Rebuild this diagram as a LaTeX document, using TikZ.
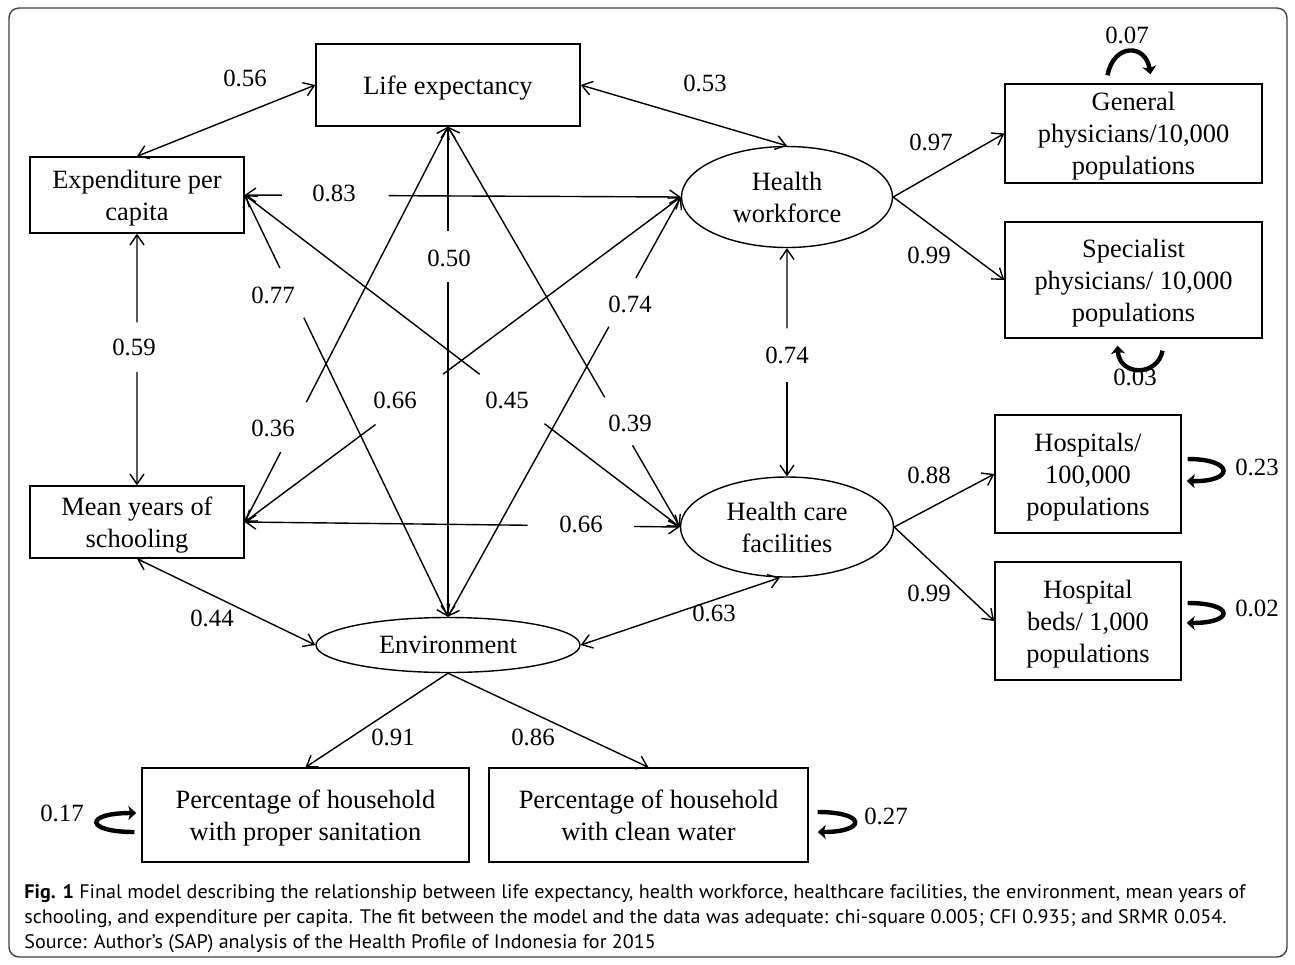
\documentclass[tikz,border=0pt]{standalone}
\usepackage{fontspec}
\setmainfont{Liberation Serif}
\newfontfamily\capfont{PT Sans}
\usepackage{graphicx}
\usetikzlibrary{arrows.meta,shapes.geometric,calc}

\tikzset{
  box/.style={draw, line width=0.7pt, rectangle, align=center, inner sep=1pt, text depth=0pt, font=\fontsize{13.2}{16}\selectfont},
  lat/.style={draw, line width=0.7pt, ellipse, align=center, inner sep=0pt, font=\fontsize{13.2}{16}\selectfont},
  con/.style={line width=0.7pt},
  biarrow/.style={con, {Straight Barb[length=5pt,width=7pt]}-{Straight Barb[length=5pt,width=7pt]}},
  onearrow/.style={con, -{Straight Barb[length=5pt,width=7pt]}},
  startarrow/.style={con, {Straight Barb[length=5pt,width=7pt]}-},
  coef/.style={font=\fontsize{12.4}{14}\selectfont, inner sep=0pt},
  resid/.style={line width=2.2pt, -{Stealth[length=4pt,width=7pt,inset=1pt]}},
  captext/.style={anchor=base west, inner sep=0pt, text=black!85},
}

\newcommand\gapline[4]{%
  \draw[startarrow] (#1) -- ($(#1)!#3!(#2)$);
  \draw[onearrow] ($(#1)!#4!(#2)$) -- (#2);}

\newsavebox\capone
\newsavebox\captwo
\newsavebox\capthree

\begin{document}
\sbox\capone{\capfont\fontsize{9.8}{12}\selectfont\textbf{Fig. 1} Final model describing the relationship between life expectancy, health workforce, healthcare facilities, the environment, mean years of}%
\sbox\captwo{\capfont\fontsize{9.8}{12}\selectfont schooling, and expenditure per capita. The fit between the model and the data was adequate: chi-square 0.005; CFI 0.935; and SRMR 0.054.}%
\sbox\capthree{\capfont\fontsize{9.8}{12}\selectfont Source: Author’s (SAP) analysis of the Health Profile of Indonesia for 2015}%
\pgfmathsetmacro\capfac{610.5/\the\wd\capone}%
\begin{tikzpicture}[x=0.5pt,y=-0.5pt]
\useasboundingbox (0,0) rectangle (1295,964);
\draw[line width=0.7pt, black!75, rounded corners=5pt] (9,8) rectangle (1287,957);

% nodes
\node[box, minimum width=132pt, minimum height=41pt] (le) at (448,85) {Life expectancy};
\node[box, minimum width=107pt, minimum height=38pt] (exp) at (137,195) {Expenditure per\\capita};
\node[box, minimum width=107pt, minimum height=36pt] (mys) at (137,522) {Mean years of\\schooling};
\node[lat, minimum width=105.5pt, minimum height=50.5pt] (hw) at (787,197) {Health\\workforce};
\node[lat, minimum width=106.5pt, minimum height=50pt] (hcf) at (787,527) {Health care\\facilities};
\node[lat, minimum width=132pt, minimum height=27.5pt] (env) at (448,645) {Environment};
\node[box, minimum width=128.5pt, minimum height=49.5pt] (gp) at (1133.5,133.5) {General\\physicians/10,000\\populations};
\node[box, minimum width=128.5pt, minimum height=58pt] (sp) at (1133.5,280) {Specialist\\physicians/ 10,000\\populations};
\node[box, minimum width=93pt, minimum height=59pt] (hosp) at (1088,474) {Hospitals/\\100,000\\populations};
\node[box, minimum width=93pt, minimum height=59pt] (beds) at (1088,621) {Hospital\\beds/ 1,000\\populations};
\node[box, minimum width=163.5pt, minimum height=47pt] (san) at (305.5,815) {Percentage of household\\with proper sanitation};
\node[box, minimum width=159.5pt, minimum height=47pt] (wat) at (648.5,815) {Percentage of household\\with clean water};

% continuous two-headed connectors
\draw[biarrow] (exp.north) -- (le.west);
\draw[biarrow] (le.east) -- (hw.north);
\draw[biarrow] (mys.south) -- (env.west);
\draw[biarrow] (env.east) -- (hcf.262);

% interrupted two-headed connectors
\gapline{exp.east}{hw.west}{0.085}{0.33}
\gapline{exp.south}{mys.north}{0.352}{0.549}
\gapline{exp.east}{env.north}{0.173}{0.291}
\gapline{exp.east}{hcf.west}{0.540}{0.689}
\gapline{le.south}{mys.east}{0.697}{0.823}
\gapline{le.south}{env.north}{0.212}{0.317}
\gapline{le.south}{hcf.west}{0.676}{0.796}
\gapline{hw.west}{mys.east}{0.545}{0.700}
\gapline{hw.west}{env.north}{0.193}{0.309}
\gapline{hw.south}{hcf.north}{0.351}{0.586}
\gapline{mys.east}{hcf.west}{0.650}{0.895}

% loadings
\draw[onearrow] (hw.east) -- (gp.west);
\draw[onearrow] (hw.east) -- (sp.west);
\draw[onearrow] (hcf.east) -- (hosp.west);
\draw[onearrow] (hcf.east) -- (beds.west);
\draw[onearrow] (env.south) -- (san.north);
\draw[onearrow] (env.south) -- (wat.north);

% residual arrows
\draw[resid] ($(gp.north)+(-26,-8)$) .. controls ($(gp.north)+(-20,-40)$) and ($(gp.north)+(12,-40)$) .. ($(gp.north)+(17,-9)$);
\draw[resid] ($(sp.south)+(29,12)$) .. controls ($(sp.south)+(24,38)$) and ($(sp.south)+(-14,38)$) .. ($(sp.south)+(-16,7)$);
\draw[resid] ($(hosp.east)+(6,-15)$) .. controls ($(hosp.east)+(53,-15)$) and ($(hosp.east)+(53,8)$) .. ($(hosp.east)+(5,7)$);
\draw[resid] ($(beds.east)+(6,-18)$) .. controls ($(beds.east)+(53,-18)$) and ($(beds.east)+(53,2)$) .. ($(beds.east)+(5,2)$);
\draw[resid] ($(san.west)+(-7,17)$) .. controls ($(san.west)+(-57,17)$) and ($(san.west)+(-57,-2)$) .. ($(san.west)+(-5,-2)$);
\draw[resid] ($(wat.east)+(9,-3)$) .. controls ($(wat.east)+(58,-3)$) and ($(wat.east)+(58,17)$) .. ($(wat.east)+(9,17)$);

% coefficients
\node[coef] (c056) at (245,78) {0.56};
\node[coef] (c053) at (705,83) {0.53};
\node[coef] (c083) at (334,193) {0.83};
\node[coef] (c059) at (134,347) {0.59};
\node[coef] (c077) at (273,295) {0.77};
\node[coef] (c050) at (449,258) {0.50};
\node[coef] (c074a) at (630,304) {0.74};
\node[coef] (c074b) at (787,355) {0.74};
\node[coef] (c045) at (507,400) {0.45};
\node[coef] (c066a) at (395,400) {0.66};
\node[coef] (c036) at (273,428) {0.36};
\node[coef] (c039) at (630,423) {0.39};
\node[coef] (c066b) at (581,524) {0.66};
\node[coef] (c044) at (212,618) {0.44};
\node[coef] (c063) at (714,613) {0.63};
\node[coef] (c097) at (931,142) {0.97};
\node[coef] (c099a) at (929,255) {0.99};
\node[coef] (c088) at (929,475) {0.88};
\node[coef] (c099b) at (929,593) {0.99};
\node[coef] (c091) at (393,737) {0.91};
\node[coef] (c086) at (533,737) {0.86};
\node[coef] (c007) at (1127,35) {0.07};
\node[coef] (c003) at (1135,377) {0.03};
\node[coef] (c023) at (1257,467) {0.23};
\node[coef] (c002) at (1257,608) {0.02};
\node[coef] (c017) at (62,813) {0.17};
\node[coef] (c027) at (886,816) {0.27};

% caption
\node[captext] (cap1) at (24,898) {\scalebox{\capfac}[1]{\usebox\capone}};
\node[captext] (cap2) at (24,923) {\scalebox{\capfac}[1]{\usebox\captwo}};
\node[captext] (cap3) at (24,948) {\scalebox{\capfac}[1]{\usebox\capthree}};
\end{tikzpicture}
\end{document}
